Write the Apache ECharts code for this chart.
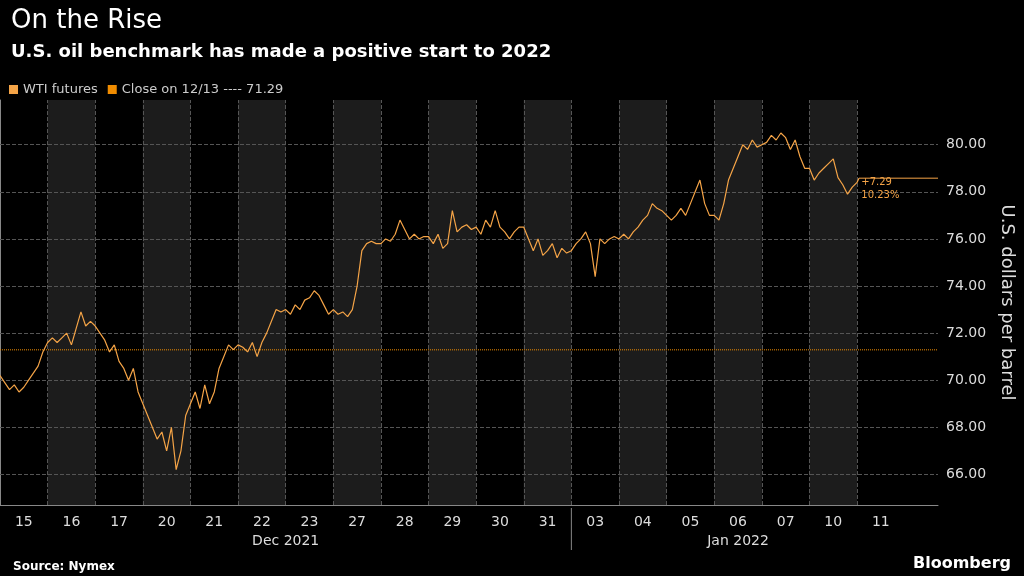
<!DOCTYPE html>
<html>
<head>
<meta charset="utf-8">
<script src="https://cdn.jsdelivr.net/npm/echarts@6/dist/echarts.min.js"></script>
<style>html,body{margin:0;background:#000;}#chart{width:1024px;height:576px;}</style>
</head>
<body>
<div id="chart"></div>
<script>
var days = ['15','16','17','20','21','22','23','27','28','29','30','31','03','04','05','06','07','10','11'];
var months = ['Dec 2021', 'Jan 2022'];
var yTicks = [66, 68, 70, 72, 74, 76, 78, 80];
var closeValue = 71.29;
// intraday prices per trading day
var dayPrices = [
    [70.2, 69.9, 69.6, 69.8, 69.5, 69.7, 70.0, 70.3, 70.6, 71.2],
    [71.6, 71.8, 71.6, 71.8, 72.0, 71.5, 72.2, 72.9, 72.3, 72.5],
    [72.3, 72.0, 71.7, 71.2, 71.5, 70.8, 70.5, 70.0, 70.5, 69.5],
    [69.0, 68.5, 68.0, 67.5, 67.8, 67.0, 68.0, 66.2, 67.0, 68.5],
    [69.0, 69.5, 68.8, 69.8, 69.0, 69.5, 70.5, 71.0, 71.5, 71.3],
    [71.5, 71.4, 71.2, 71.6, 71.0, 71.6, 72.0, 72.5, 73.0, 72.9],
    [73.0, 72.8, 73.2, 73.0, 73.4, 73.5, 73.8, 73.6, 73.2, 72.8],
    [73.0, 72.8, 72.9, 72.7, 73.0, 74.0, 75.5, 75.8, 75.9, 75.8],
    [75.8, 76.0, 75.9, 76.2, 76.8, 76.4, 76.0, 76.2, 76.0, 76.1],
    [76.1, 75.8, 76.2, 75.6, 75.8, 77.2, 76.3, 76.5, 76.6, 76.4],
    [76.5, 76.2, 76.8, 76.5, 77.2, 76.5, 76.3, 76.0, 76.3, 76.5],
    [76.5, 76.0, 75.5, 76.0, 75.3, 75.5, 75.8, 75.2, 75.6, 75.4],
    [75.5, 75.8, 76.0, 76.3, 75.8, 74.4, 76.0, 75.8, 76.0, 76.1],
    [76.0, 76.2, 76.0, 76.3, 76.5, 76.8, 77.0, 77.5, 77.3, 77.2],
    [77.0, 76.8, 77.0, 77.3, 77.0, 77.5, 78.0, 78.5, 77.5, 77.0],
    [77.0, 76.8, 77.5, 78.5, 79.0, 79.5, 80.0, 79.8, 80.2, 79.9],
    [80.0, 80.1, 80.4, 80.2, 80.5, 80.3, 79.8, 80.2, 79.5, 79.0],
    [79.0, 78.5, 78.8, 79.0, 79.2, 79.4, 78.6, 78.3, 77.9, 78.2],
    [78.4, 78.58]
];
var xMax = 19.7;

var orange = '#f5a447';
var wtiData = [];
dayPrices.forEach(function (arr, d) {
    var n = d === dayPrices.length - 1 ? 25 : arr.length;
    arr.forEach(function (v, i) { wtiData.push([d + i / n, v]); });
});
var last = wtiData[wtiData.length - 1];

var bands = [];
for (var d = 1; d < days.length; d += 2) bands.push([{xAxis: d}, {xAxis: d + 1}]);
var bounds = [];
for (var d = 1; d < days.length; d++) bounds.push({xAxis: d});
var grids = yTicks.map(function (v) { return {yAxis: v}; });

var chart = echarts.init(document.getElementById('chart'));
chart.setOption({
    backgroundColor: '#000',
    animation: false,
    textStyle: {fontFamily: 'DejaVu Sans'},
    title: [
        {text: 'On the Rise', left: 6, top: 3, textStyle: {color: '#fff', fontSize: 26, fontWeight: 'normal'}},
        {text: 'U.S. oil benchmark has made a positive start to 2022', left: 6, top: 38, textStyle: {color: '#fff', fontSize: 18, fontWeight: 'bold'}},
        {text: 'Source: Nymex', left: 8, top: 556, textStyle: {color: '#fff', fontSize: 12, fontWeight: 'bold'}},
        {text: 'Bloomberg', right: 8, top: 551, textStyle: {color: '#fff', fontSize: 16, fontWeight: 'bold'}}
    ],
    legend: {
        left: 4, top: 78, itemWidth: 9, itemHeight: 9, itemGap: 10,
        textStyle: {color: '#ccc', fontSize: 13},
        data: [{name: 'WTI futures', icon: 'rect'}, {name: 'Close on 12/13 ---- 71.29', icon: 'rect'}]
    },
    grid: {left: 0, right: 86, top: 100, bottom: 71},
    xAxis: {
        type: 'value', min: 0, max: xMax,
        axisLine: {show: true, lineStyle: {color: '#888'}},
        axisTick: {show: false},
        splitLine: {show: false},
        axisLabel: {
            customValues: days.map(function (_, i) { return i + 0.5; }),
            color: '#ddd', fontSize: 14, margin: 10,
            formatter: function (v) { return days[Math.floor(v)]; }
        }
    },
    yAxis: {
        type: 'value', position: 'right', min: 64.7, max: 81.9,
        name: 'U.S. dollars per barrel', nameLocation: 'middle', nameRotate: -90, nameGap: 60,
        nameTextStyle: {color: '#ddd', fontSize: 18},
        axisLine: {show: true, lineStyle: {color: '#888'}},
        axisTick: {show: false},
        splitLine: {show: false},
        axisLabel: {customValues: yTicks, color: '#ddd', fontSize: 14, margin: 8,
            formatter: function (v) { return v.toFixed(2); }}
    },
    series: [
        {
            name: 'WTI futures', type: 'line', data: wtiData, showSymbol: false,
            color: orange, lineStyle: {width: 1.2, color: orange},
            markArea: {silent: true, itemStyle: {color: '#1c1c1c'}, data: bands},
            markLine: {
                silent: true, symbol: 'none', label: {show: false},
                lineStyle: {color: '#555', type: 'dashed', width: 1},
                data: bounds.concat(grids)
            },
            z: 5
        },
        {
            name: 'Close on 12/13 ---- 71.29', type: 'line', showSymbol: false,
            data: [[0, closeValue], [xMax, closeValue]],
            color: '#f08c00', lineStyle: {color: '#f08c00', type: 'dotted', width: 1}, z: 4
        },
        {
            type: 'line', showSymbol: false, silent: true,
            data: [last, [xMax, last[1]]],
            lineStyle: {color: orange, width: 1}, z: 4,
            markPoint: {
                symbol: 'rect', symbolSize: 0,
                label: {show: true, color: orange, fontSize: 10, align: 'left', lineHeight: 13,
                    formatter: '+' + (last[1] - closeValue).toFixed(2) + '\n' + ((last[1] / closeValue - 1) * 100).toFixed(2) + '%'},
                data: [{coord: [last[0] + 0.05, last[1] - 0.45]}]
            }
        }
    ]
});

// month labels under the day labels, and the year divider
var decMid = chart.convertToPixel({xAxisIndex: 0}, 6);
var janMid = chart.convertToPixel({xAxisIndex: 0}, 15.5);
var divX = chart.convertToPixel({xAxisIndex: 0}, 12);
chart.setOption({
    graphic: [
        {type: 'text', x: decMid, y: 534, style: {text: months[0], fill: '#ddd', font: '14px DejaVu Sans', align: 'center'}},
        {type: 'text', x: janMid, y: 534, style: {text: months[1], fill: '#ddd', font: '14px DejaVu Sans', align: 'center'}},
        {type: 'line', shape: {x1: divX, y1: 508, x2: divX, y2: 550}, style: {stroke: '#888', lineWidth: 1}}
    ]
});
</script>
</body>
</html>
